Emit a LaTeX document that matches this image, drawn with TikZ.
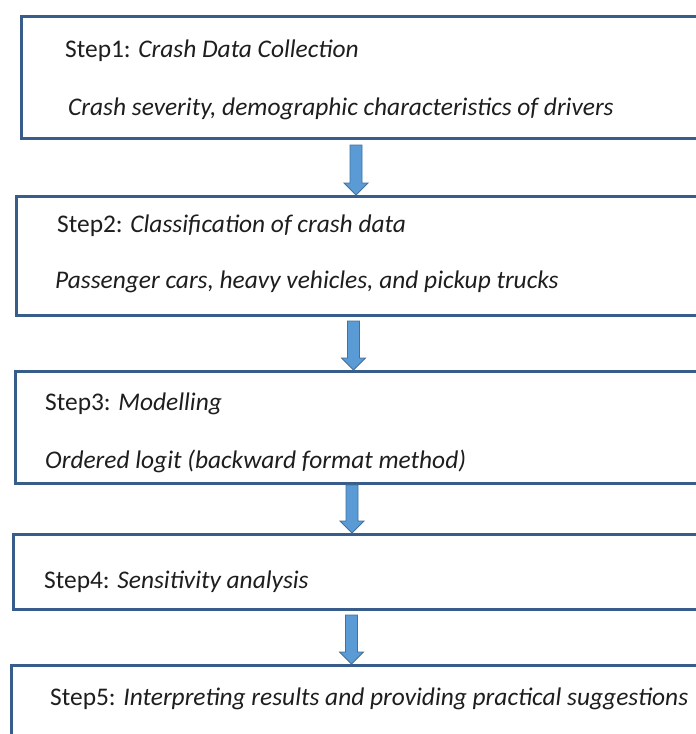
\documentclass[tikz,border=0pt]{standalone}
\usepackage{fontspec}
\setmainfont{Carlito}
\usetikzlibrary{calc}
\definecolor{boxline}{RGB}{56,93,138}
\definecolor{arrfill}{RGB}{91,155,213}
\definecolor{arrline}{RGB}{65,113,156}
\definecolor{txt}{RGB}{30,30,30}
\tikzset{
  stepbox/.style={draw=boxline, line width=3pt, fill=white, rectangle, anchor=north west, inner sep=0pt, minimum width=720pt},
  steptext/.style={anchor=base west, inner sep=0pt, text=txt, font=\fontsize{25.4pt}{28pt}\selectfont},
  blockarr/.style={fill=arrfill, draw=arrline, line width=0.8pt, line join=miter}
}
% #1 top coordinate, #2 tip coordinate (same x)
\newcommand\downarrowblock[2]{%
  \path[blockarr] ($(#1)+(-6,0)$) -- ($(#1)+(6,0)$) -- ($(#2)+(6,-12)$) -- ($(#2)+(12,-12)$)
     -- (#2) -- ($(#2)+(-12,-12)$) -- ($(#2)+(-6,-12)$) -- cycle;}
\begin{document}
\begin{tikzpicture}[x=1pt,y=-1pt]
\clip (0,0) rectangle (696,734);
\fill[white] (0,0) rectangle (696,734);
% boxes
\node[stepbox, minimum height=122pt] (b1) at (20,15) {};
\node[stepbox, minimum height=119pt] (b2) at (15,195) {};
\node[stepbox, minimum height=112pt] (b3) at (14,370) {};
\node[stepbox, minimum height=75pt] (b4) at (12,533) {};
\node[stepbox, minimum height=110pt] (b5) at (10,664) {};
% texts
\node[steptext] (t1a) at (65,57) {Step1: \textit{Crash Data Collection}};
\node[steptext] (t1b) at (68,115) {\textit{Crash severity, demographic characteristics of drivers}};
\node[steptext] (t2a) at (57,232) {Step2: \textit{Classification of crash data}};
\node[steptext] (t2b) at (55,288) {\textit{Passenger cars, heavy vehicles, and pickup trucks}};
\node[steptext] (t3a) at (45,410) {Step3: \textit{Modelling}};
\node[steptext] (t3b) at (45,468) {\textit{Ordered logit (backward format method)}};
\node[steptext] (t4a) at (44,588) {Step4: \textit{Sensitivity analysis}};
\node[steptext] (t5a) at (50,705) {Step5: \textit{Interpreting results and providing practical suggestions}};
% arrow anchor coordinates
\coordinate (a1s) at ($(b1.south west)+(336,5)$);
\coordinate (a1e) at (a1s |- b2.north);
\coordinate (a2s) at ($(b2.south west)+(338.5,4)$);
\coordinate (a2e) at (a2s |- b3.north);
\coordinate (a3s) at ($(b3.south west)+(338,0)$);
\coordinate (a3e) at (a3s |- b4.north);
\coordinate (a4s) at ($(b4.south west)+(339.5,4)$);
\coordinate (a4e) at (a4s |- b5.north);
\downarrowblock{a1s}{a1e}
\downarrowblock{a2s}{a2e}
\downarrowblock{a3s}{a3e}
\downarrowblock{a4s}{a4e}
\end{tikzpicture}
\end{document}
